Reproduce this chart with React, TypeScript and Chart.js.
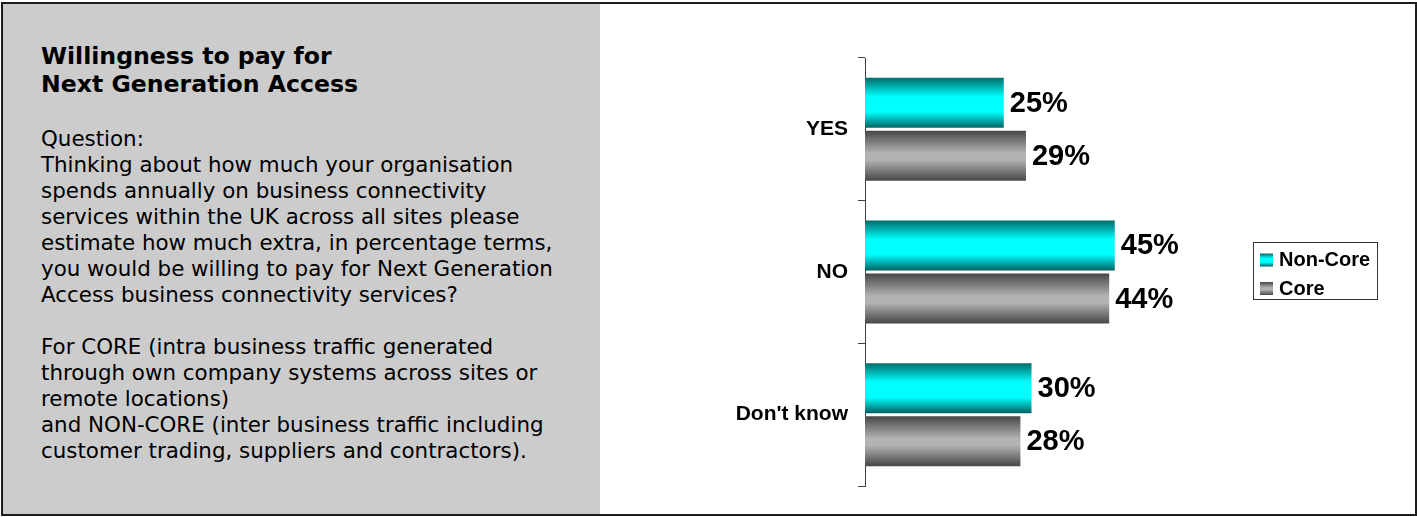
import React, { useEffect, useRef } from 'react';
import { Chart, registerables } from 'chart.js';

Chart.register(...registerables);

// ---- data ----
const categories = ['YES', 'NO', "Don't know"];
const seriesNames = ['Non-Core', 'Core'];
const nonCoreValues = [25, 45, 30];
const coreValues = [29, 44, 28];
const xMax = 60;

const titleLines = ['Willingness to pay for', 'Next Generation Access'];
const bodyLines = [
  'Question:',
  'Thinking about how much your organisation',
  'spends annually on business connectivity',
  'services within the UK across all sites please',
  'estimate how much extra, in percentage terms,',
  'you would be willing to pay for Next Generation',
  'Access business connectivity services?',
  '',
  'For CORE (intra business traffic generated',
  'through own company systems across sites or',
  'remote locations)',
  'and NON-CORE (inter business traffic including',
  'customer trading, suppliers and contractors).',
];

// ---- styles ----
const CYAN_STOPS: [number, string][] = [
  [0, '#006a6a'],
  [0.38, '#00ffff'],
  [0.68, '#00ffff'],
  [1, '#006262'],
];
const GRAY_STOPS: [number, string][] = [
  [0, '#474747'],
  [0.45, '#b3b3b3'],
  [0.58, '#b3b3b3'],
  [1, '#474747'],
];
const SERIES_STOPS = [CYAN_STOPS, GRAY_STOPS];
const CHART_FONT = '"Liberation Sans", Arial, Helvetica, sans-serif';

function vGrad(ctx: CanvasRenderingContext2D, top: number, bottom: number, stops: [number, string][]) {
  const g = ctx.createLinearGradient(0, top, 0, bottom);
  stops.forEach(([o, c]) => g.addColorStop(o, c));
  return g;
}

const barGradientPlugin = {
  id: 'barGradient',
  beforeDatasetsDraw(chart: any) {
    const ctx = chart.ctx;
    chart.data.datasets.forEach((_: any, di: number) => {
      const meta = chart.getDatasetMeta(di);
      const stops = SERIES_STOPS[di];
      meta.data.forEach((el: any) => {
        const h = el.height;
        const top = el.y - h / 2;
        const g = vGrad(ctx, top, top + h, stops);
        el.options = Object.assign({}, el.options, { backgroundColor: g });
      });
    });
  },
};

const valueLabelPlugin = {
  id: 'valueLabels',
  afterDatasetsDraw(chart: any) {
    const ctx = chart.ctx;
    ctx.save();
    ctx.font = `bold 29px ${CHART_FONT}`;
    ctx.fillStyle = '#000';
    ctx.textAlign = 'left';
    ctx.textBaseline = 'middle';
    chart.data.datasets.forEach((ds: any, di: number) => {
      const meta = chart.getDatasetMeta(di);
      meta.data.forEach((el: any, i: number) => {
        ctx.fillText(`${ds.data[i]}%`, el.x + 6, el.y + 1);
      });
    });
    ctx.restore();
  },
};

const boxLegendPlugin = {
  id: 'boxLegend',
  afterDraw(chart: any, _args: any, opts: any) {
    const ctx = chart.ctx;
    const { left, top, width, height, swatch, rowY, textX, fontSize } = opts;
    ctx.save();
    ctx.fillStyle = '#ffffff';
    ctx.fillRect(left, top, width, height);
    ctx.strokeStyle = '#333333';
    ctx.lineWidth = 1;
    ctx.strokeRect(left + 0.5, top + 0.5, width - 1, height - 1);
    ctx.font = `bold ${fontSize}px ${CHART_FONT}`;
    ctx.textAlign = 'left';
    ctx.textBaseline = 'middle';
    chart.data.datasets.forEach((ds: any, di: number) => {
      const cy = rowY[di];
      const sTop = cy - swatch / 2;
      ctx.fillStyle = vGrad(ctx, sTop, sTop + swatch, SERIES_STOPS[di]);
      ctx.fillRect(left + 7, sTop, swatch, swatch);
      ctx.fillStyle = '#000';
      ctx.fillText(ds.label, textX, cy + 0.5);
    });
    ctx.restore();
  },
};

function ChartPanel() {
  const ref = useRef<HTMLCanvasElement>(null);
  useEffect(() => {
    const chart = new Chart(ref.current as HTMLCanvasElement, {
      type: 'bar',
      data: {
        labels: categories,
        datasets: [
          {
            label: seriesNames[0],
            data: nonCoreValues,
            backgroundColor: '#00ffff',
            borderWidth: 0,
            categoryPercentage: 0.743,
            barPercentage: 0.943,
          },
          {
            label: seriesNames[1],
            data: coreValues,
            backgroundColor: '#b3b3b3',
            borderWidth: 0,
            categoryPercentage: 0.743,
            barPercentage: 0.943,
          },
        ],
      },
      options: {
        indexAxis: 'y',
        responsive: false,
        animation: false,
        events: [],
        layout: { padding: { left: 0, top: 56, right: 217, bottom: 29 } },
        plugins: {
          legend: { display: false },
          tooltip: { enabled: false },
          boxLegend: {
            left: 653,
            top: 240,
            width: 125,
            height: 58,
            swatch: 13,
            rowY: [258, 286.5],
            textX: 679,
            fontSize: 20,
          },
        } as any,
        scales: {
          x: { display: false, min: 0, max: xMax },
          y: {
            position: 'left',
            offset: true,
            grid: {
              offset: true,
              drawOnChartArea: false,
              drawTicks: true,
              tickLength: 7,
              color: '#404040',
              lineWidth: 1,
            },
            border: { display: true, color: '#404040', width: 1 },
            ticks: {
              padding: 10,
              color: '#000',
              font: { family: CHART_FONT, size: 21, weight: 'bold' },
            },
            afterFit: (s: any) => {
              s.width = 265;
            },
          },
        },
      } as any,
      plugins: [barGradientPlugin, valueLabelPlugin, boxLegendPlugin],
    });
    return () => chart.destroy();
  }, []);
  return (
    <canvas
      ref={ref}
      width={815}
      height={513}
      style={{ position: 'absolute', left: 600, top: 2, width: 815, height: 513 }}
    />
  );
}

export default function App() {
  return (
    <div
      style={{
        position: 'fixed',
        left: 0,
        top: 0,
        width: 1417,
        height: 517,
        background: '#ffffff',
        overflow: 'hidden',
      }}
    >
      <div
        style={{
          position: 'absolute',
          left: 3,
          top: 4,
          width: 597,
          height: 510,
          background: '#cccccc',
        }}
      />
      <div
        style={{
          position: 'absolute',
          left: 41,
          top: 43,
          fontFamily: '"DejaVu Sans", Verdana, sans-serif',
          fontWeight: 'bold',
          fontSize: 23.6,
          lineHeight: '27.5px',
          color: '#000',
          whiteSpace: 'nowrap',
        }}
      >
        {titleLines.map((t, i) => (
          <div key={i}>{t}</div>
        ))}
      </div>
      <div
        style={{
          position: 'absolute',
          left: 41,
          top: 125.5,
          fontFamily: '"DejaVu Sans", Verdana, sans-serif',
          fontSize: 21.4,
          lineHeight: '26px',
          color: '#000',
          whiteSpace: 'nowrap',
        }}
      >
        {bodyLines.map((t, i) => (
          <div key={i} style={{ height: 26 }}>
            {t}
          </div>
        ))}
      </div>
      <ChartPanel />
      <div
        style={{
          position: 'absolute',
          left: 1,
          top: 2,
          width: 1416,
          height: 514,
          boxSizing: 'border-box',
          border: '2px solid #1c1c1c',
          pointerEvents: 'none',
        }}
      />
    </div>
  );
}
